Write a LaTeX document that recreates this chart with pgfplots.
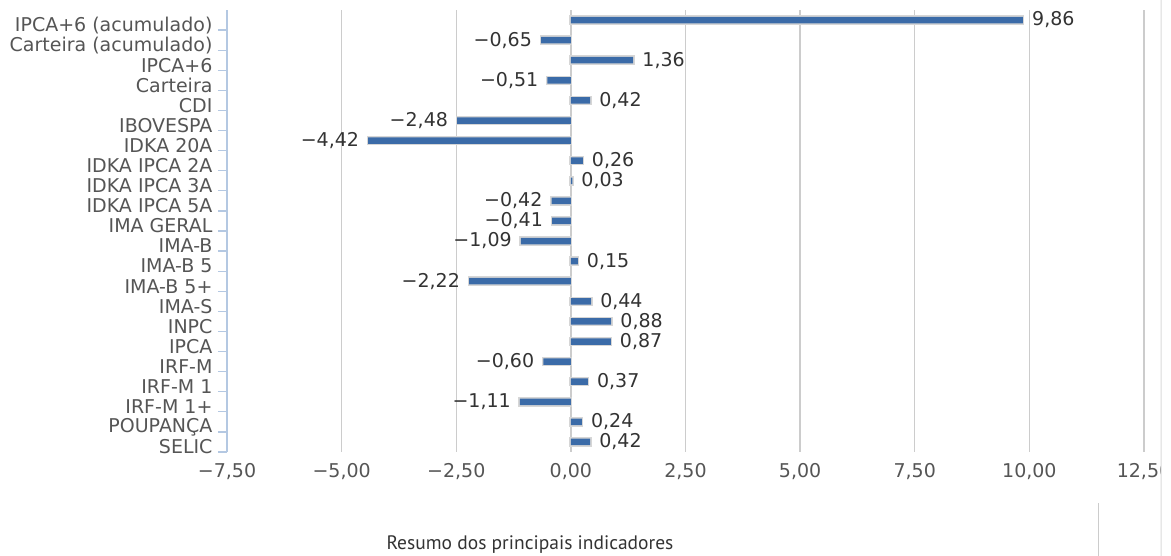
\documentclass[border=0pt]{standalone}
\usepackage{fontspec}
\setmainfont{DejaVu Sans}
\newfontfamily\titlefont{PT Sans}
\usepackage{pgfplots}
\usepackage{pgfplotstable}
\pgfplotsset{compat=1.18}

\definecolor{barblue}{HTML}{3B6BA8}
\definecolor{barrim}{HTML}{D6D6D6}
\definecolor{gridgray}{HTML}{CCCCCC}
\definecolor{axisblue}{HTML}{B4C8E2}
\definecolor{catgray}{HTML}{555555}
\definecolor{valgray}{HTML}{333333}

% top to bottom, as in the chart
\pgfplotstableread{
idx val lab
0   9.86 9,86
1  -0.65 −0,65
2   1.36 1,36
3  -0.51 −0,51
4   0.42 0,42
5  -2.48 −2,48
6  -4.42 −4,42
7   0.26 0,26
8   0.03 0,03
9  -0.42 −0,42
10 -0.41 −0,41
11 -1.09 −1,09
12  0.15 0,15
13 -2.22 −2,22
14  0.44 0,44
15  0.88 0,88
16  0.87 0,87
17 -0.60 −0,60
18  0.37 0,37
19 -1.11 −1,11
20  0.24 0,24
21  0.42 0,42
}\indicadores

\newcommand{\fs}{\fontsize{19}{21}\selectfont}

\begin{document}
\begin{tikzpicture}
\begin{axis}[
  name=ax,
  scale only axis,
  width=917pt, height=442pt,
  xbar, bar shift=0pt, bar width=6.5pt,
  xmin=-7.5, xmax=12.5,
  ymin=-0.5, ymax=21.5, y dir=reverse,
  xtick={-7.5,-5,-2.5,0,2.5,5,7.5,10,12.5},
  xticklabels={{−7,50},{−5,00},{−2,50},{0,00},{2,50},{5,00},{7,50},{10,00},{12,50}},
  ytick={0,...,21},
  minor ytick={0.5,1.5,...,21.5},
  yticklabels={IPCA+6 (acumulado),Carteira (acumulado),IPCA+6,Carteira,CDI,
    IBOVESPA,IDKA 20A,IDKA IPCA 2A,IDKA IPCA 3A,IDKA IPCA 5A,IMA GERAL,IMA-B,
    IMA-B 5,IMA-B 5+,IMA-S,INPC,IPCA,IRF-M,IRF-M 1,IRF-M 1+,POUPANÇA,SELIC},
  axis y line*=left,
  axis x line*=bottom,
  x axis line style={draw=none},
  y axis line style={draw=axisblue, line width=1.2pt},
  xtick style={draw=none},
  major y tick style={draw=none},
  minor y tick style={draw=axisblue, line width=1.2pt},
  ytick align=outside,
  major tick length=9pt,
  minor tick length=9pt,
  xmajorgrids,
  grid style={draw=gridgray, line width=1.3pt},
  ticklabel style={font=\fs, text=catgray},
  xticklabel style={yshift=-8pt},
  yticklabel style={xshift=-2pt, yshift=-5pt},
  bar style/.style={fill=barblue, draw=none, preaction={draw=barrim, line width=3pt}},
  nodes near coords,
  point meta=explicit symbolic,
  every node near coord/.append style={font=\fs, text=valgray, inner sep=1pt},
  clip=false,
]
\addplot[bar style, restrict x to domain=0:20,
  every node near coord/.append style={anchor=west, xshift=8pt}]
  table[x=val, y=idx, meta=lab] {\indicadores};
\addplot[bar style, restrict x to domain=-20:0,
  every node near coord/.append style={anchor=east, xshift=-8pt}]
  table[x=val, y=idx, meta=lab] {\indicadores};
\end{axis}
% screenshot frame: title below and the panel edges
\node[font=\titlefont\fontsize{19.5}{22}\selectfont, text=valgray]
  at ([shift={(303pt,-93pt)}]ax.south west) {Resumo dos principais indicadores};
\draw[gridgray, line width=1pt] ([shift={(871pt,-51pt)}]ax.south west) -- ++(0,-53pt);
\fill[white] ([shift={(934pt,-104pt)}]ax.south west) rectangle ([shift={(27pt,10pt)}]ax.north east);
\draw[gridgray!70, line width=1pt] ([shift={(934pt,-104pt)}]ax.south west) -- ([shift={(17pt,10pt)}]ax.north east);
\pgfresetboundingbox
\path ([shift={(-227pt,-104pt)}]ax.south west) rectangle ([shift={(27pt,10pt)}]ax.north east);
\end{tikzpicture}
\end{document}
